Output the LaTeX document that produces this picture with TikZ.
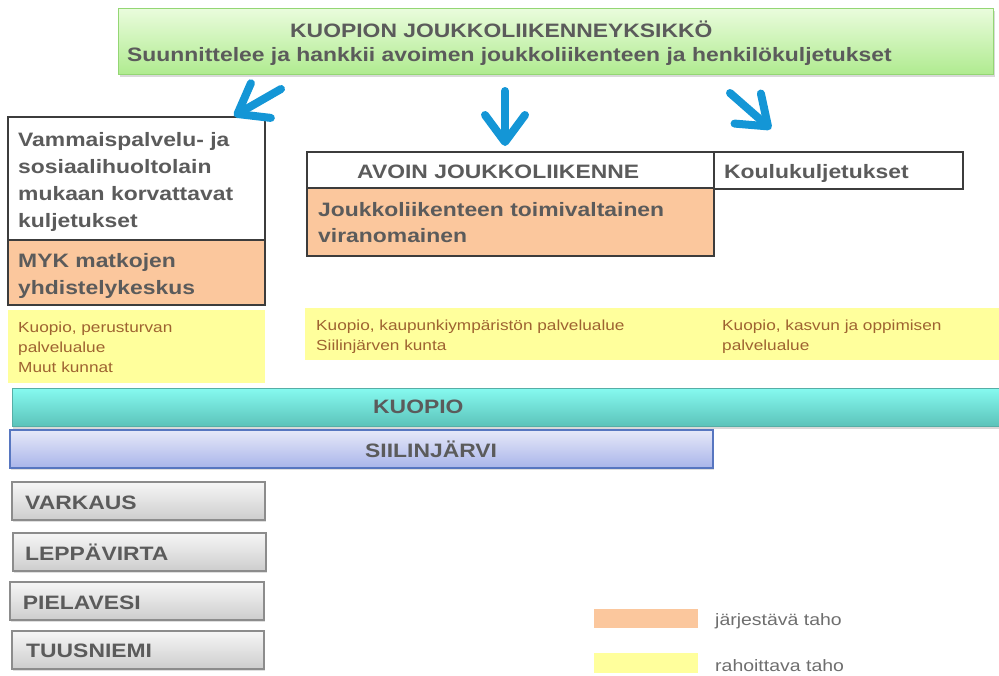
\documentclass[tikz,border=0pt]{standalone}
\usepackage{fontspec}
\setmainfont{Liberation Sans}[FakeStretch=1.18]
\usetikzlibrary{arrows.meta,shadows}
\definecolor{tgray}{HTML}{5B5B5B}
\definecolor{brn}{HTML}{9E6331}
\definecolor{lgray}{HTML}{6E6E6E}
\definecolor{blu}{HTML}{1496D6}
\definecolor{bord}{HTML}{3C3C3C}
\definecolor{org}{HTML}{FBC79D}
\definecolor{yel}{HTML}{FFFF9C}
\definecolor{topT}{HTML}{EAFCDD}
\definecolor{topB}{HTML}{B0EB90}
\definecolor{topBd}{HTML}{94D674}
\definecolor{kT}{HTML}{86FAF0}
\definecolor{kB}{HTML}{5CC3BA}
\definecolor{kBd}{HTML}{56AEA6}
\definecolor{sT}{HTML}{E6E8F8}
\definecolor{sB}{HTML}{A9B5EA}
\definecolor{sBd}{HTML}{5776C0}
\definecolor{gT}{HTML}{F6F6F6}
\definecolor{gB}{HTML}{CDCDCD}
\definecolor{gBd}{HTML}{8C8C8C}
\tikzset{
  txt/.style={text=tgray, inner sep=0pt, align=left},
  big/.style={font=\fontsize{19.4}{27}\selectfont\bfseries},
  bigtight/.style={font=\fontsize{19.4}{26}\selectfont\bfseries},
  small/.style={font=\fontsize{14.6}{20}\selectfont, text=brn},
  legtxt/.style={font=\fontsize{16.5}{20}\selectfont, text=lgray},
  topbox/.style={rectangle, draw=topBd, line width=1pt, top color=topT, bottom color=topB,
    drop shadow={opacity=0.3, shadow xshift=2pt, shadow yshift=-3pt}},
  wbox/.style={rectangle, draw=bord, line width=1.3pt, fill=white},
  obox/.style={rectangle, draw=bord, line width=1.3pt, fill=org},
  ybox/.style={rectangle, fill=yel},
  kbar/.style={rectangle, draw=kBd, line width=0.8pt, top color=kT, bottom color=kB,
    drop shadow={opacity=0.3, shadow xshift=1pt, shadow yshift=-3pt}},
  sbar/.style={rectangle, draw=sBd, line width=1.2pt, top color=sT, bottom color=sB,
    drop shadow={opacity=0.25, shadow xshift=1pt, shadow yshift=-2pt}},
  gbox/.style={rectangle, draw=gBd, line width=1.2pt, top color=gT, bottom color=gB,
    drop shadow={opacity=0.25, shadow xshift=1pt, shadow yshift=-2pt}},
  legbox/.style={rectangle, inner sep=0pt},
  bigarrow/.style={draw=blu, line width=8pt, line cap=round,
    -{Straight Barb[length=27pt, width=40pt, round]}}
}
\begin{document}
\begin{tikzpicture}[x=1pt,y=-1pt]
\useasboundingbox (0,0) rectangle (999,675);

% top unit
\node[topbox, minimum width=875, minimum height=66] (top) at (555.5,41) {};
\node[txt, big, anchor=base west] (t1) at (290,37) {KUOPION JOUKKOLIIKENNEYKSIKKÖ};
\node[txt, big, anchor=base west] (t2) at (127,61.5) {Suunnittelee ja hankkii avoimen joukkoliikenteen ja henkilökuljetukset};

% left column
\node[wbox, minimum width=257, minimum height=123] (vam) at (136.5,178.5) {};
\node[obox, minimum width=257, minimum height=65] (myk) at (136.5,272.5) {};
\node[ybox, minimum width=257, minimum height=73] (yl) at (136.5,346.5) {};
\node[txt, big, anchor=north west] (vamt) at (18,132) {Vammaispalvelu- ja\\sosiaalihuoltolain\\mukaan korvattavat\\kuljetukset};
\node[txt, big, anchor=north west] (mykt) at (18,253) {MYK matkojen\\yhdistelykeskus};
\node[txt, small, anchor=north west] (ylt) at (18,321.5) {Kuopio, perusturvan\\palvelualue\\Muut kunnat};

% middle
\node[wbox, minimum width=407, minimum height=36] (avoin) at (510.5,170) {};
\node[wbox, minimum width=249, minimum height=37] (koulu) at (838.5,170.5) {};
\node[obox, minimum width=407, minimum height=68] (jtv) at (510.5,222) {};
\node[txt, big, anchor=base west] (avoint) at (357,178) {AVOIN JOUKKOLIIKENNE};
\node[txt, big, anchor=base west] (koulut) at (724,178) {Koulukuljetukset};
\node[txt, bigtight, anchor=north west] (jtvt) at (318,202.5) {Joukkoliikenteen toimivaltainen\\viranomainen};

% yellow band
\node[ybox, minimum width=694, minimum height=52] (ym) at (652,334) {};
\node[txt, small, anchor=north west] (ymt1) at (316,320) {Kuopio, kaupunkiympäristön palvelualue\\Siilinjärven kunta};
\node[txt, small, anchor=north west] (ymt2) at (722,320) {Kuopio, kasvun ja oppimisen\\palvelualue};

% bars
\node[kbar, minimum width=987, minimum height=38] (kuopio) at (505.5,407) {};
\node[txt, big, anchor=base west] (kuopiot) at (373,413.3) {KUOPIO};
\node[sbar, minimum width=703, minimum height=38] (siil) at (361.5,449) {};
\node[txt, big, anchor=base west] (siilt) at (365,457.7) {SIILINJÄRVI};

% municipalities
\node[gbox, minimum width=253, minimum height=38] (varkaus) at (138.5,501) {};
\node[txt, big, anchor=base west] (varkaust) at (25,509) {VARKAUS};
\node[gbox, minimum width=253, minimum height=38] (leppa) at (139.5,552) {};
\node[txt, big, anchor=base west] (leppat) at (25,560.7) {LEPPÄVIRTA};
\node[gbox, minimum width=254, minimum height=38] (piela) at (137,601) {};
\node[txt, big, anchor=base west] (pielat) at (22.7,609.3) {PIELAVESI};
\node[gbox, minimum width=252, minimum height=38] (tuus) at (138,650) {};
\node[txt, big, anchor=base west] (tuust) at (26,657.3) {TUUSNIEMI};

% legend
\node[legbox, fill=org, minimum width=104, minimum height=19] (lo) at (645.5,618) {};
\node[txt, legtxt, anchor=base west] (lot) at (715,625) {järjestävä taho};
\node[legbox, fill=yel, minimum width=104, minimum height=20] (ly) at (645.5,663) {};
\node[txt, legtxt, anchor=base west] (lyt) at (715,671.5) {rahoittava taho};

% arrows
\coordinate (a1s) at (281,89);
\coordinate (a1e) at (234,116);
\coordinate (a2s) at (505,91);
\coordinate (a2e) at (505,146);
\coordinate (a3s) at (730,93);
\coordinate (a3e) at (771,129);
\draw[bigarrow] (a1s) -- (a1e);
\draw[bigarrow] (a2s) -- (a2e);
\draw[bigarrow] (a3s) -- (a3e);
\end{tikzpicture}
\end{document}
